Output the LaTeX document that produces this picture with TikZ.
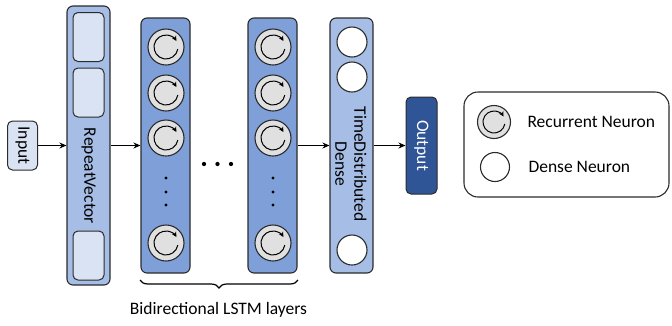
\documentclass[tikz,border=0pt]{standalone}
\usepackage{fontspec}
\setmainfont{Carlito}
\usetikzlibrary{arrows.meta,decorations.pathreplacing,calc}
\definecolor{lightbox}{HTML}{DAE3F3}
\definecolor{midblue}{HTML}{A6BDE6}
\definecolor{lstmblue}{HTML}{7F9FD9}
\definecolor{outblue}{HTML}{2F5597}
\definecolor{neurgray}{HTML}{E0E0E0}
\definecolor{edge}{HTML}{2B2B2B}
\tikzset{
  layerbox/.style={draw=edge, line width=1.1pt, rounded corners=6pt, inner sep=0pt},
  cellbox/.style={draw=edge, line width=1pt, fill=lightbox, rounded corners=5pt, minimum width=31pt, minimum height=49pt, inner sep=0pt},
  rneuron/.style={circle, draw=edge, line width=1.1pt, fill=neurgray, minimum size=36pt, inner sep=0pt},
  dneuron/.style={circle, draw=edge, line width=1.1pt, fill=white, minimum size=30pt, inner sep=0pt},
  conn/.style={line width=1.3pt, -{Stealth[length=7pt,width=6pt]}},
  lbl/.style={font=\fontsize{17.5}{19}\selectfont},
  vdot/.style={circle, fill=black, minimum size=3.4pt, inner sep=0pt},
}
\newcommand{\recarc}[2]{\draw[line width=1pt, -{Stealth[length=5pt,width=5pt]}] ([shift={(10:#2)}]#1.center) arc[start angle=10, end angle=330, radius=#2];}
\begin{document}
\begin{tikzpicture}[x=1pt,y=-1pt]
\useasboundingbox (0,0) rectangle (672,325);
% Input
\node[draw=edge, line width=1pt, fill=lightbox, rounded corners=5pt, minimum width=30pt, minimum height=49pt, inner sep=0pt] (inp) at (22.5,145.5) {};
\node[lbl, rotate=-90] (inpt) at (22.5,145.5) {Input};
% RepeatVector
\node[layerbox, fill=midblue, minimum width=43pt, minimum height=279pt] (rv) at (88.5,145.5) {};
\node[lbl, rotate=-90] (rvt) at (88.5,176) {RepeatVector};
\node[cellbox] (rv1) at (88.5,37) {};
\node[cellbox] (rv2) at (88.5,92.5) {};
\node[cellbox] (rv3) at (88.5,255.5) {};
% LSTM 1
\node[layerbox, fill=lstmblue, minimum width=49pt, minimum height=255pt] (l1) at (165.5,145.5) {};
\foreach \i/\yy in {1/47,2/93,3/138,4/243}{
  \node[rneuron] (a\i) at (166,\yy) {};
  \recarc{a\i}{12}
}
\node[vdot] (a5) at (166,178) {};
\node[vdot] (a6) at (166,192) {};
\node[vdot] (a7) at (166,205) {};
% dots between
\node[vdot, minimum size=4.3pt] (h1) at (204,164) {};
\node[vdot, minimum size=4.3pt] (h2) at (217.5,164) {};
\node[vdot, minimum size=4.3pt] (h3) at (231,164) {};
% LSTM 2
\node[layerbox, fill=lstmblue, minimum width=49pt, minimum height=255pt] (l2) at (272.5,145.5) {};
\foreach \i/\yy in {1/47,2/93,3/138,4/243}{
  \node[rneuron] (b\i) at (273,\yy) {};
  \recarc{b\i}{12}
}
\node[vdot] (b5) at (273,178) {};
\node[vdot] (b6) at (273,192) {};
\node[vdot] (b7) at (273,205) {};
% TimeDistributed
\node[layerbox, fill=midblue, minimum width=43pt, minimum height=255pt] (td) at (351.5,145.5) {};
\node[lbl, rotate=-90, align=center] (tdt) at (351,164) {TimeDistributed\\Dense};
\node[dneuron] (d1) at (352,42) {};
\node[dneuron] (d2) at (352,77) {};
\node[dneuron] (d3) at (352,250) {};
% Output
\node[draw=edge, line width=1pt, fill=outblue, rounded corners=5pt, minimum width=31pt, minimum height=97pt, inner sep=0pt] (out) at (421.5,145.5) {};
\node[lbl, rotate=-90, text=white] (outt) at (421.5,145.5) {Output};
% connectors
\draw[conn] (inp.east) -- (rv.west |- inp.east);
\draw[conn] (rv.east |- inp.east) -- (l1.west |- inp.east);
\draw[conn] (l2.east |- inp.east) -- (td.west |- inp.east);
\draw[conn] (td.east |- inp.east) -- (out.west);
% brace
\coordinate (bl) at (140,280);
\coordinate (br) at (298,280);
\draw[line width=1.2pt, decorate, decoration={brace, mirror, amplitude=8pt, aspect=0.5}] (bl) -- (br);
\node[lbl] (brt) at (218.5,310) {Bidirectional LSTM layers};
% legend
\node[draw=edge, line width=1.1pt, rounded corners=14pt, minimum width=205pt, minimum height=105pt, inner sep=0pt] (leg) at (566.5,144.5) {};
\node[rneuron, minimum size=33pt] (lr) at (494,122) {};
\recarc{lr}{11}
\node[dneuron, minimum size=29pt] (ld) at (495,167) {};
\node[lbl, anchor=west] (lrt) at (524,122) {Recurrent Neuron};
\node[lbl, anchor=west] (ldt) at (525,167) {Dense Neuron};
\end{tikzpicture}
\end{document}
